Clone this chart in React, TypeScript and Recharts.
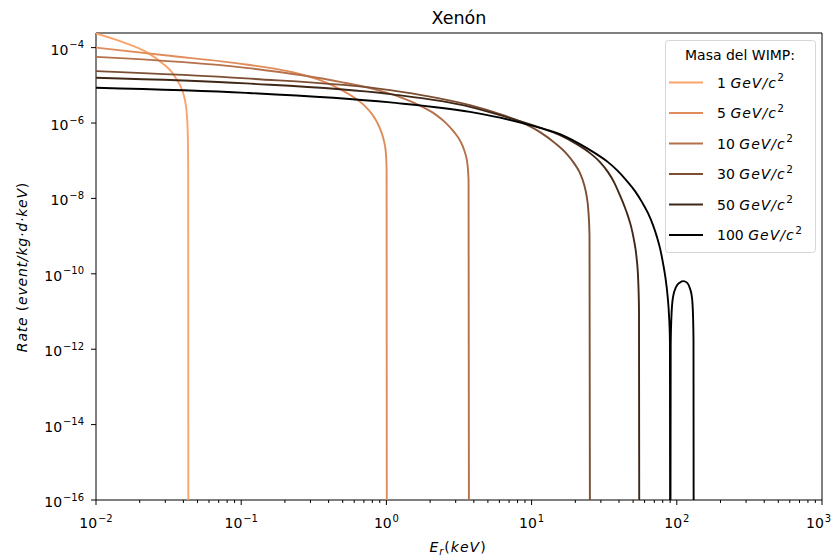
import React from 'react';
import { LineChart, Line, XAxis, YAxis, ReferenceArea } from 'recharts';

// WIMP masses (GeV/c^2) and their line colours (copper-like ramp)
const MASSES = [1, 5, 10, 30, 50, 100];
const COLORS = ['#fca26b', '#e08d5b', '#b5714a', '#7c4f34', '#3f2818', '#000000'];

// recoil energy (keV) / rate (event/kg·d·keV)
const E_1 = [0.01, 0.01463, 0.02211, 0.0288, 0.03285, 0.03583, 0.03819, 0.04005, 0.04134, 0.04233, 0.04287, 0.04315, 0.04329];
const R_1 = [2.38e-4, 1.487e-4, 7.73e-5, 3.81e-5, 2.38e-5, 1.46e-5, 9.52e-6, 5.84e-6, 3.37e-6, 1.52e-6, 4.78e-7, 5.73e-8, 1e-20];

const E_5 = [0.01, 0.02986, 0.1079, 0.2169, 0.3489, 0.4791, 0.6078, 0.7121, 0.7957, 0.8615, 0.918, 0.9627, 0.9906, 1.0032, 1.0079];
const R_5 = [1.0e-4, 6.25e-5, 3.58e-5, 2.31e-5, 1.374e-5, 7.93e-6, 4.57e-6, 2.81e-6, 1.72e-6, 1.057e-6, 6.1e-7, 3.31e-7, 1.69e-7, 5.73e-8, 1e-20];

const E_10 = [0.01, 0.1079, 0.4791, 0.8215, 1.241, 1.703, 2.161, 2.573, 2.93, 3.23, 3.45, 3.6, 3.68, 3.71];
const R_10 = [5.7e-5, 2.91e-5, 1.238e-5, 7.93e-6, 4.86e-6, 2.89e-6, 1.72e-6, 9.94e-7, 5.73e-7, 3.31e-7, 1.8e-7, 9.18e-8, 3.06e-8, 1e-20];

const E_30 = [0.01, 0.1079, 1.062, 1.997, 3.765, 6.059, 8.322, 11.43, 14.5, 17.26, 19.59, 21.54, 22.96, 23.88, 24.58, 25.05, 25.3];
const R_30 = [2.38e-5, 1.524e-5, 7.46e-6, 5.02e-6, 2.98e-6, 1.72e-6, 1.089e-6, 5.73e-7, 2.93e-7, 1.59e-7, 8.64e-8, 4.69e-8,
  2.39e-8, 1.22e-8, 4.89e-9, 1.06e-9, 1e-20];

const E_50 = [0.01, 0.1079, 1.062, 3.765, 6.059, 8.322, 11.43, 15.69, 19.9, 25.25, 29.59, 33.59, 36.94, 39.99, 43.29, 46.12,
  48.37, 50.72, 52.78, 54.22, 54.91, 55.26];
const R_50 = [1.581e-5, 1.123e-5, 5.84e-6, 2.69e-6, 1.62e-6, 1.123e-6, 7.55e-7, 4.78e-7, 2.93e-7, 1.59e-7, 9.18e-8, 4.98e-8,
  2.71e-8, 1.38e-8, 6.64e-9, 3.39e-9, 1.84e-9, 7.83e-10, 2.77e-10, 6.81e-11, 1.09e-11, 1e-20];

const E_100 = [0.01, 0.1079, 1.062, 3.765, 6.059, 9.75, 15.69, 21.54, 27.33, 33.59, 39.36, 45.39, 51.54, 57.6, 63.35, 68.57,
  73.05, 76.61, 80.35, 83.6, 86.3, 88.37, 89.64, 90.2, 90.78, 91.94, 94.15, 98.74, 105.2, 110.9, 117.5, 123.3, 127.3,
  129.3, 130.3, 130.9];
const R_100 = [8.59e-6, 6.32e-6, 3.52e-6, 1.98e-6, 1.39e-6, 8.8e-7, 5.08e-7, 2.76e-7, 1.59e-7, 9.18e-8, 5.3e-8, 2.88e-8,
  1.56e-8, 7.98e-9, 4.07e-9, 1.96e-9, 9.41e-10, 4.8e-10, 1.92e-10, 7.69e-11, 2.72e-11, 8.03e-12, 1.74e-12, 1e-20, 1.28e-12,
  8.03e-12, 2.41e-11, 4.44e-11, 5.91e-11, 6.4e-11, 5.84e-11, 4.1e-11, 2.27e-11, 8.03e-12, 1.74e-12, 1e-20];

const ENERGIES = [E_1, E_5, E_10, E_30, E_50, E_100];
const RATES = [R_1, R_5, R_10, R_30, R_50, R_100];

const X_MAJOR = [0.01, 0.1, 1, 10, 100, 1000];
const Y_TICKS = [1e-16, 1e-14, 1e-12, 1e-10, 1e-8, 1e-6, 1e-4];
const X_DOMAIN = [0.01, 1000];
const Y_DOMAIN = [1e-16, 2.443e-4];

// minor ticks 2..9 in every decade
const X_TICKS: number[] = [];
X_MAJOR.forEach((d, i) => {
  X_TICKS.push(d);
  if (i < X_MAJOR.length - 1) for (let k = 2; k <= 9; k++) X_TICKS.push(+(d * k).toPrecision(3));
});

const FONT = 'DejaVu Sans';
const FS = 14;
const SUP = 10;

const series = MASSES.map((m, i) => ({
  name: `${m} GeV/c2`,
  color: COLORS[i],
  data: ENERGIES[i].map((e, j) => ({ e, r: RATES[i][j] })),
}));

const expLabel = (v: number) => {
  const p = Math.round(Math.log10(v));
  return p < 0 ? `\u2212${-p}` : `${p}`;
};

const XTick = ({ x, y, payload }: any) => {
  const v = payload.value;
  const major = X_MAJOR.includes(v);
  // last label sits on the right edge of the figure, keep it inside
  const last = v === X_MAJOR[X_MAJOR.length - 1];
  return (
    <g>
      <line x1={x} x2={x} y1={y} y2={y + (major ? 5 : 3)} stroke="#000" strokeWidth={1} />
      {major && (
        <text
          x={last ? Math.min(x + 12, 831) : x}
          y={y + 28}
          textAnchor={last ? 'end' : 'middle'}
          fontSize={FS}
          fill="#000"
          fontFamily={FONT}
        >
          <tspan>10</tspan>
          <tspan dx={0.8} dy={-6.5} fontSize={SUP}>{expLabel(v)}</tspan>
        </text>
      )}
    </g>
  );
};

const YTick = ({ x, y, payload }: any) => (
  <g>
    <line x1={x - 5} x2={x} y1={y} y2={y} stroke="#000" strokeWidth={1} />
    <text x={x - 12} y={y + 7} textAnchor="end" fontSize={FS} fill="#000" fontFamily={FONT}>
      <tspan>10</tspan>
      <tspan dx={0.8} dy={-6.5} fontSize={SUP}>{expLabel(payload.value)}</tspan>
    </text>
  </g>
);

const App = () => {
  return (
    <div style={{ position: 'absolute', left: 0, top: 0, width: 833, height: 560, background: '#fff' }}>
      <LineChart width={833} height={560} margin={{ top: 33, right: 11, bottom: 0, left: 0 }}>
        <XAxis
          dataKey="e"
          type="number"
          scale="log"
          domain={X_DOMAIN}
          allowDataOverflow
          ticks={X_TICKS}
          interval={0}
          height={60}
          tickSize={0}
          tickMargin={0}
          axisLine={false}
          tickLine={false}
          tick={<XTick />}
        />
        <YAxis
          type="number"
          scale="log"
          domain={Y_DOMAIN}
          allowDataOverflow
          ticks={Y_TICKS}
          interval={0}
          width={96}
          tickSize={0}
          tickMargin={0}
          axisLine={false}
          tickLine={false}
          tick={<YTick />}
        />
        {series.map((s) => (
          <Line
            key={s.name}
            data={s.data}
            dataKey="r"
            name={s.name}
            type="monotone"
            stroke={s.color}
            strokeWidth={1.9}
            dot={false}
            activeDot={false}
            isAnimationActive={false}
          />
        ))}
        <ReferenceArea
          x1={X_DOMAIN[0]}
          x2={X_DOMAIN[1]}
          y1={Y_DOMAIN[0]}
          y2={Y_DOMAIN[1]}
          fill="none"
          stroke="#000"
          strokeWidth={1}
          ifOverflow="visible"
        />
      </LineChart>

      <svg
        width={833}
        height={560}
        style={{ position: 'absolute', left: 0, top: 0, pointerEvents: 'none' }}
        fontFamily={FONT}
      >
        <text x={459} y={24} textAnchor="middle" fontSize={17.5} fill="#000">Xenón</text>
        <text x={458} y={552} textAnchor="middle" fontSize={FS} fill="#000" fontStyle="italic" letterSpacing={1}>
          E<tspan fontSize={SUP} dy={3}>r</tspan>
          <tspan dy={-3} fontStyle="normal">(</tspan>keV<tspan fontStyle="normal">)</tspan>
        </text>
        <text
          transform="translate(27,267) rotate(-90)"
          textAnchor="middle"
          fontSize={FS}
          fill="#000"
          fontStyle="italic"
          letterSpacing={0.8}
        >
          Rate <tspan fontStyle="normal">(</tspan>event/kg·d·keV<tspan fontStyle="normal">)</tspan>
        </text>

        {/* legend */}
        <rect x={665.5} y={40.5} width={150} height={212} rx={3} fill="rgba(255,255,255,0.8)" stroke="#d6d6d6" />
        <text x={740} y={59.5} textAnchor="middle" fontSize={FS} fill="#000">Masa del WIMP:</text>
        {series.map((s, i) => {
          const cy = 82.5 + 30.5 * i;
          return (
            <g key={s.name}>
              <line x1={669} x2={703} y1={cy} y2={cy} stroke={s.color} strokeWidth={1.9} />
              <text x={717} y={cy + 5} fontSize={FS} fill="#000">
                {MASSES[i]} <tspan fontStyle="italic" letterSpacing={1}>GeV/c</tspan>
                <tspan dx={0.5} dy={-6.5} fontSize={10.5}>2</tspan>
              </text>
            </g>
          );
        })}
      </svg>
    </div>
  );
};

export default App;
